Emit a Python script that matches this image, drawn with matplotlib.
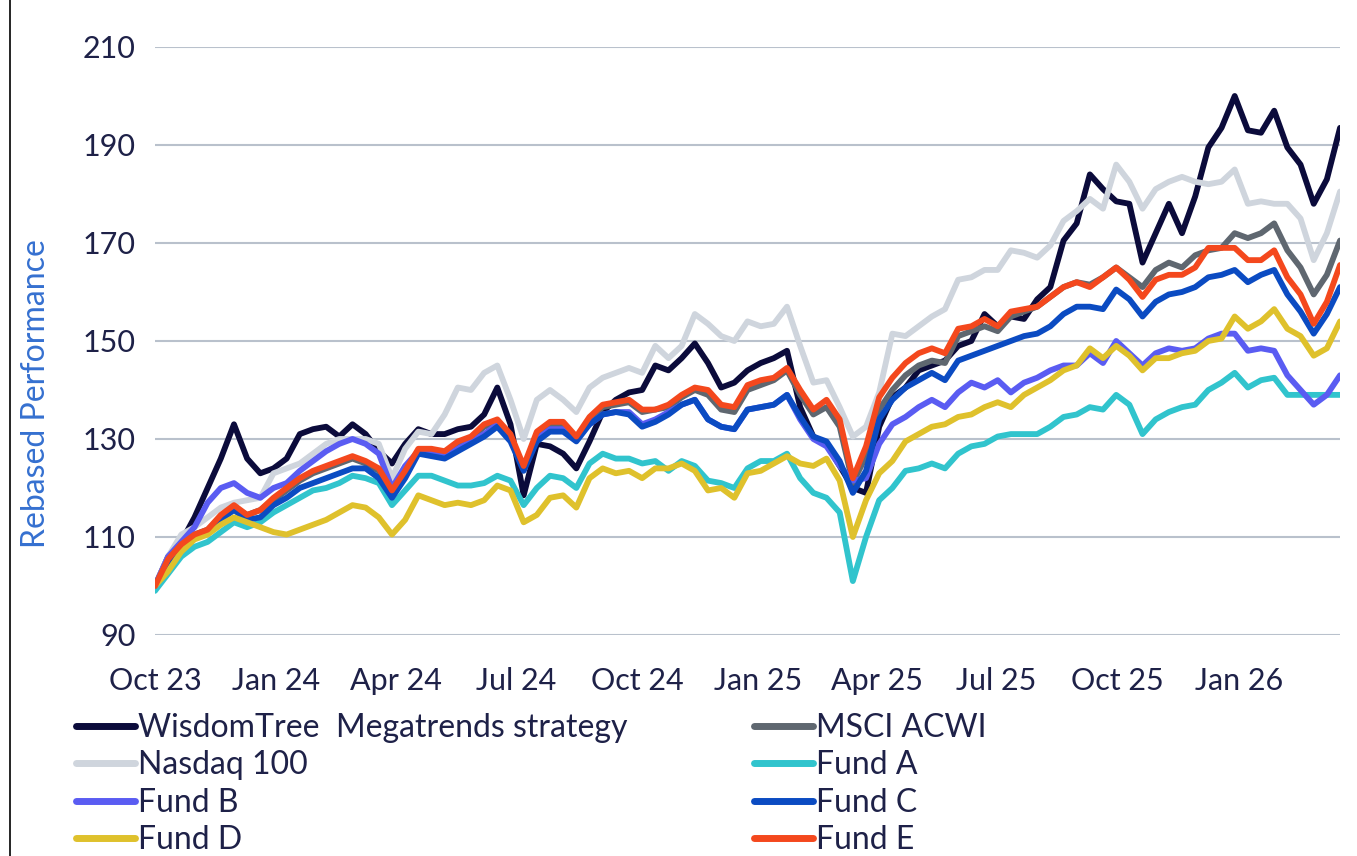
import numpy as np
import pandas as pd
import matplotlib
matplotlib.use("Agg")
import matplotlib.pyplot as plt
import matplotlib.dates as mdates
from matplotlib.lines import Line2D

plt.rcParams['font.family'] = ['Lato', 'DejaVu Sans']

# 10-day samples, starting 1 Oct 2023
dates = pd.date_range('2023-10-01', periods=91, freq='10D')

wisdomtree = [100, 106, 109, 114, 120, 126, 133, 126, 123, 124, 126, 131, 132, 132.5, 130.5, 133, 131, 127.5, 125, 129,
              132, 131, 131, 132, 132.5, 135, 140.5, 133, 118.5, 129, 128.5, 127, 124, 129.5, 135.5, 138, 139.5, 140, 145,
              144, 146.5, 149.5, 145.5, 140.5, 141.5, 144, 145.5, 146.5, 148, 136.5, 130.5, 129, 124.5, 120, 119, 132.5, 138.5, 140.5,
              144, 145, 146, 149, 150, 155.5, 153, 155, 154.5, 158.5, 161, 170.5, 174, 184, 181, 178.5, 178, 166, 172,
              178, 172, 179.5, 189.5, 193.5, 200, 193, 192.5, 197, 189.5, 186, 178, 183, 193.5]
msci_acwi = [100, 105, 108.5, 110.5, 111.5, 114, 116, 114.5, 115.5, 117.5, 119.5, 121.5, 123, 124, 125, 126, 125, 123.5, 119, 123,
             127.5, 127.5, 127, 129, 130, 132.5, 133.5, 130.5, 124, 131, 133, 133, 130, 134, 136.5, 137, 137.5, 135.5, 136,
             136.5, 138.5, 140, 139, 136, 135.5, 140, 141, 142, 144, 139, 135, 136.5, 132.5, 121, 126.5, 136, 140, 143,
             145, 146, 145.5, 151, 152, 153, 152, 155, 156, 157, 159, 161, 162, 161.5, 163, 165, 163, 161, 164.5,
             166, 165, 167.5, 168.5, 169, 172, 171, 172, 174, 168.5, 165, 159.5, 163.5, 170.5]
nasdaq = [100, 106, 110.5, 112, 114, 116, 117, 117.5, 118, 123, 124, 125, 127, 129, 130, 130, 130, 129, 122, 128,
          131.5, 131, 135, 140.5, 140, 143.5, 145, 138, 130, 138, 140, 138, 135.5, 140.5, 142.5, 143.5, 144.5, 143.5, 149,
          146.5, 149, 155.5, 153.5, 151, 150, 154, 153, 153.5, 157, 149, 141.5, 142, 136.5, 130.5, 132.5, 139.5, 151.5, 151,
          153, 155, 156.5, 162.5, 163, 164.5, 164.5, 168.5, 168, 167, 169.5, 174.5, 176.5, 179, 177, 186, 182.5, 177, 181,
          182.5, 183.5, 182.5, 182, 182.5, 185, 178, 178.5, 178, 178, 175, 166.5, 172, 180.5]
fund_a = [99, 102.5, 106, 108, 109, 111, 113, 112, 113, 115, 116.5, 118, 119.5, 120, 121, 122.5, 122, 121, 116.5, 119.5,
          122.5, 122.5, 121.5, 120.5, 120.5, 121, 122.5, 121.5, 116.5, 120, 122.5, 122, 120, 125, 127, 126, 126, 125, 125.5,
          123.5, 125.5, 124.5, 121.5, 121, 120, 124, 125.5, 125.5, 127, 122, 119, 118, 115, 101, 110, 117.5, 120, 123.5,
          124, 125, 124, 127, 128.5, 129, 130.5, 131, 131, 131, 132.5, 134.5, 135, 136.5, 136, 139, 137, 131, 134,
          135.5, 136.5, 137, 140, 141.5, 143.5, 140.5, 142, 142.5, 139, 139, 139, 139, 139]
fund_b = [100, 106, 109, 112, 117, 120, 121, 119, 118, 120, 121, 123.5, 125.5, 127.5, 129, 130, 129, 127, 120, 124.5,
          127.5, 127, 126.5, 128, 129.5, 131, 133, 130, 124, 130, 132, 132, 130, 133, 135, 135.5, 135.5, 133, 134,
          135.5, 137, 138, 134, 132.5, 132, 136, 136.5, 137, 139, 134, 130, 128.5, 124.5, 121.5, 122, 129, 133, 134.5,
          136.5, 138, 136.5, 139.5, 141.5, 140.5, 142, 139.5, 141.5, 142.5, 144, 145, 145, 147.5, 145.5, 150, 147.5, 145, 147.5,
          148.5, 148, 148.5, 150.5, 151.5, 151.5, 148, 148.5, 148, 143, 140, 137, 139, 143]
fund_c = [100, 105, 108, 110, 111, 113.5, 115.5, 113.5, 114, 116.5, 118, 120, 121, 122, 123, 124, 124, 122, 118, 122,
          127, 126.5, 126, 127.5, 129, 130.5, 132.5, 129.5, 123.5, 129.5, 131.5, 131.5, 129.5, 133, 135, 135.5, 135, 132.5, 133.5,
          135, 137, 138, 134, 132.5, 132, 136, 136.5, 137, 139, 134.5, 130.5, 129.5, 125.5, 119, 123.5, 134, 138, 140.5,
          142, 143.5, 142, 146, 147, 148, 149, 150, 151, 151.5, 153, 155.5, 157, 157, 156.5, 160.5, 158.5, 155, 158,
          159.5, 160, 161, 163, 163.5, 164.5, 162, 163.5, 164.5, 159.5, 156, 151.5, 155.5, 161]
fund_d = [100, 103, 107, 109.5, 110.5, 112.5, 114, 113, 112, 111, 110.5, 111.5, 112.5, 113.5, 115, 116.5, 116, 114, 110.5, 113.5,
          118.5, 117.5, 116.5, 117, 116.5, 117.5, 120.5, 119.5, 113, 114.5, 118, 118.5, 116, 122, 124, 123, 123.5, 122, 124,
          124, 125, 123.5, 119.5, 120, 118, 123, 123.5, 125, 126.5, 125, 124.5, 126, 121.5, 110, 117.5, 123, 125.5, 129.5,
          131, 132.5, 133, 134.5, 135, 136.5, 137.5, 136.5, 139, 140.5, 142, 144, 145, 148.5, 146.5, 149, 147, 144, 146.5,
          146.5, 147.5, 148, 150, 150.5, 155, 152.5, 154, 156.5, 152.5, 151, 147, 148.5, 154]
fund_e = [100, 105.5, 108.5, 110.5, 111.5, 114.5, 116.5, 114.5, 115.5, 118, 120, 122, 123.5, 124.5, 125.5, 126.5, 125.5, 124, 119.5, 123.5,
          128, 128, 127.5, 129.5, 130.5, 133, 134, 131, 124.5, 131.5, 133.5, 133.5, 130.5, 134.5, 137, 137.5, 138, 136, 136,
          137, 139, 140.5, 140, 137, 136.5, 141, 142, 142.5, 144.5, 140, 136, 138, 134, 122, 128.5, 138.5, 142.5, 145.5,
          147.5, 148.5, 147.5, 152.5, 153, 154.5, 153, 156, 156.5, 157, 159, 161, 162, 161, 163, 165, 162.5, 159, 162.5,
          163.5, 163.5, 165, 169, 169, 169, 166.5, 166.5, 168.5, 163, 159.5, 153.5, 158, 165.5]

labels = ['WisdomTree  Megatrends strategy', 'MSCI ACWI', 'Nasdaq 100', 'Fund A',
          'Fund B', 'Fund C', 'Fund D', 'Fund E']
series = [wisdomtree, msci_acwi, nasdaq, fund_a, fund_b, fund_c, fund_d, fund_e]
colors = ['#0b0b3b', '#5f6770', '#cfd5dd', '#31c4cd', '#5a5cf2', '#0b4bc2', '#dfc12c', '#f4481d']

text_col = '#1e2148'

fig = plt.figure(figsize=(13.57, 8.56), dpi=100)
ax = fig.add_axes([0.1142, 0.2582, 0.8733, 0.6869])

lines = []
for i, (vals, lab, col) in enumerate(zip(series, labels, colors)):
    ln, = ax.plot(dates, vals, color=col, lw=4.2, label=lab, zorder=3 + i,
                  solid_joinstyle='round', solid_capstyle='round')
    lines.append(ln)

ax.set_ylim(90, 210)
ax.set_yticks(np.arange(90, 211, 20))
ax.set_xlim(dates[0], dates[-1])
ax.xaxis.set_major_locator(mdates.MonthLocator(bymonth=[1, 4, 7, 10]))
ax.xaxis.set_major_formatter(mdates.DateFormatter('%b %y'))

ax.grid(axis='y', color='#b9c1cc', lw=1.5, zorder=0)
ax.grid(axis='x', visible=False)
for s in ax.spines.values():
    s.set_visible(False)
ax.tick_params(axis='both', length=0, labelsize=22, colors=text_col)
ax.tick_params(axis='x', pad=23)
ax.tick_params(axis='y', pad=14)
ax.set_ylabel('Rebased Performance', fontsize=23, color='#3570d0')
ax.yaxis.set_label_coords(-0.088, 0.41)

# legend reads row by row: matplotlib fills columns, so reorder
order = [0, 2, 4, 6, 1, 3, 5, 7]
leg = fig.legend([lines[k] for k in order], [labels[k] for k in order],
                 loc='upper left', bbox_to_anchor=(0.056, 0.167), ncol=2, frameon=False,
                 fontsize=23, handlelength=1.85, handletextpad=0.1, labelspacing=0.23,
                 columnspacing=3.95, borderaxespad=0, borderpad=0)
for t in leg.get_texts():
    t.set_color(text_col)
for h in leg.get_lines():
    h.set_linewidth(5)

# thin border line at the left edge of the picture
fig.add_artist(Line2D([0.0075, 0.0075], [0, 1], color='black', lw=1.2))

fig.savefig('out.png', dpi=100)
